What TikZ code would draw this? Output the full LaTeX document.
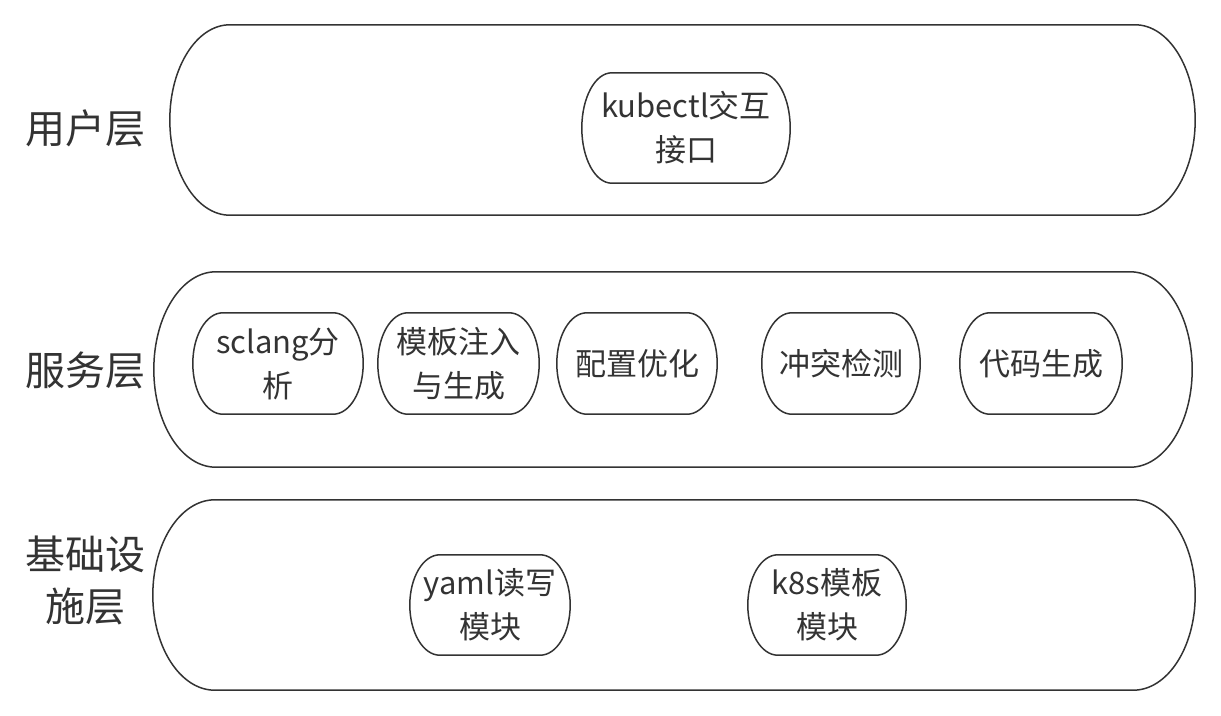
\documentclass[tikz,border=0pt]{standalone}
\usepackage{fontspec}
\setmainfont{Noto Sans CJK SC}
\usetikzlibrary{calc}
\definecolor{ink}{HTML}{333333}
\newcommand\stadium[2]{%
  \draw[ink, line width=1.5pt] let \p1=(#1.north west), \p2=(#1.south east), \n1={(\y1-\y2)/2} in
  (\x1+#2pt,\y1) -- (\x2-#2pt,\y1)
  arc[start angle=90,end angle=-90,x radius=#2pt,y radius=\n1]
  -- (\x1+#2pt,\y2)
  arc[start angle=270,end angle=90,x radius=#2pt,y radius=\n1] -- cycle;}
\tikzset{
  layer/.style={draw=none, inner sep=0pt},
  item/.style={draw=none, inner sep=0pt, align=center, text=ink,
    font=\fontsize{31}{44}\selectfont},
  lbl/.style={inner sep=0pt, align=center, text=ink,
    font=\fontsize{40}{52}\selectfont},
}
\begin{document}
\begin{tikzpicture}[x=1pt,y=1pt]
\useasboundingbox (0,0) rectangle (1221,-715);
% layer boxes
\node[layer, minimum width=1025pt, minimum height=190pt] (user) at (682.5,-120) {};
\node[layer, minimum width=1038pt, minimum height=195pt] (svc) at (673,-369.5) {};
\node[layer, minimum width=1042pt, minimum height=190pt] (infra) at (674,-595) {};
\stadium{user}{60}
\stadium{svc}{62}
\stadium{infra}{62}
% layer labels
\node[lbl] (l1) at (85,-128) {用户层};
\node[lbl] (l2) at (85,-370) {服务层};
\node[lbl] (l3) at (85,-580) {基础设\\施层};
% items
\node[item, minimum width=208pt, minimum height=110pt] (kub) at (686,-128) {kubectl交互\\接口};
\node[item, minimum width=170pt, minimum height=101pt] (scl) at (278,-363.5) {sclang分\\析};
\node[item, minimum width=161pt, minimum height=101pt] (tpl) at (458.5,-363.5) {模板注入\\与生成};
\node[item, minimum width=160pt, minimum height=101pt] (cfg) at (637,-363.5) {配置优化};
\node[item, minimum width=158pt, minimum height=101pt] (cfl) at (841,-363.5) {冲突检测};
\node[item, minimum width=162pt, minimum height=101pt] (gen) at (1041,-363.5) {代码生成};
\node[item, minimum width=160pt, minimum height=100pt] (yml) at (490,-605) {yaml读写\\模块};
\node[item, minimum width=158pt, minimum height=100pt] (k8s) at (827,-605) {k8s模板\\模块};
\stadium{kub}{30}
\stadium{scl}{30}
\stadium{tpl}{30}
\stadium{cfg}{30}
\stadium{cfl}{30}
\stadium{gen}{30}
\stadium{yml}{30}
\stadium{k8s}{30}
\end{tikzpicture}
\end{document}
